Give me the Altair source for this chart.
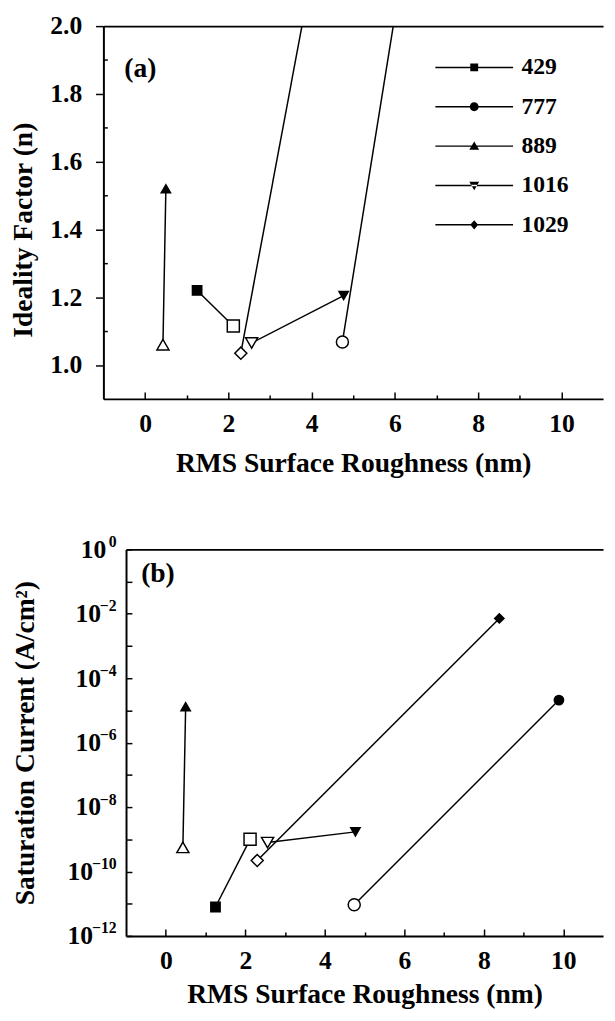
import altair as alt
import pandas as pd

# ---------------- data ----------------
series = ["429", "777", "889", "1016", "1029"]
roughness_open = [2.12, 4.74, 0.43, 2.56, 2.30]
roughness_filled = [1.25, 9.89, 0.50, 4.77, 8.39]
ideality_open = [1.115, 1.068, 1.06, 1.065, 1.035]
ideality_filled = [1.22, 5.00, 1.52, 1.205, 5.04]
current_open = [1.0e-9, 9.3e-12, 5.6e-10, 7.9e-10, 2.2e-10]
current_filled = [7.9e-12, 2.1e-5, 1.3e-5, 1.7e-9, 7.2e-3]

x_major = [0, 2, 4, 6, 8, 10]
x_minor = [1, 3, 5, 7, 9]
n_major = [1.0, 1.2, 1.4, 1.6, 1.8, 2.0]
n_minor = [1.1, 1.3, 1.5, 1.7, 1.9]
j_major = [1, 1e-2, 1e-4, 1e-6, 1e-8, 1e-10, 1e-12]
j_minor = [1e-1, 1e-3, 1e-5, 1e-7, 1e-9, 1e-11]

states = ["open", "filled"]
shapes = ["square", "circle", "triangle-up", "triangle-down", "diamond"]
legend_paths = [
    "M-7.9,-0.15H7.9V0.15H-7.9Z M-0.8,-0.8H0.8V0.8H-0.8Z",
    "M-7.9,-0.15H7.9V0.15H-7.9Z M0.9,0A0.9,0.9,0,1,1,-0.9,0A0.9,0.9,0,1,1,0.9,0Z",
    "M-7.9,-0.15H7.9V0.15H-7.9Z M0,-0.95L1,0.75H-1Z",
    "M-7.9,-0.15H7.9V0.15H-7.9Z M0,0.95L1,-0.75H-1Z",
    "M-7.9,-0.15H7.9V0.15H-7.9Z M0,-0.95L0.8,0L0,0.95L-0.8,0Z",
]

rows = []
for i, s in enumerate(series):
    rows.append({"series": s, "state": "open", "rough": roughness_open[i],
                 "n": ideality_open[i], "j": current_open[i]})
    rows.append({"series": s, "state": "filled", "rough": roughness_filled[i],
                 "n": ideality_filled[i], "j": current_filled[i]})
df = pd.DataFrame(rows)

FONT = "Liberation Serif"
W = 485
OFF = 23
H_TOP = 379
H_BOT = 393


def main_axis(**kw):
    base = dict(grid=False, domainColor="black", domainWidth=2, tickColor="black",
                labelColor="black", titleColor="black", labelFont=FONT, titleFont=FONT,
                labelFontWeight="bold", titleFontWeight="bold", labelFontSize=26,
                titleFontSize=28)
    base.update(kw)
    return alt.Axis(**base)


def tick_axis(values, size, offset, orient):
    return alt.Axis(values=values, ticks=True, tickSize=size, tickWidth=1.5,
                    tickColor="black", labels=False, domain=False, grid=False,
                    title=None, offset=offset, orient=orient, minExtent=0)


def border_axis():
    return alt.Axis(orient="top", labels=False, ticks=False, domain=True, domainWidth=2,
                    domainColor="black", grid=False, title=None, minExtent=0)


base = alt.Chart(df)

# ---------------- panel (a) ----------------
xs_top = alt.Scale(domain=[-1, 11], range=[-OFF, W], nice=False, zero=False)
ys_top = alt.Scale(domain=[0.9, 2.0], nice=False, zero=False)

lines_top = base.mark_line(color="black", strokeWidth=1.5, clip=True).encode(
    x=alt.X("rough:Q", scale=xs_top,
            axis=main_axis(values=x_major, format="d", ticks=False, labelPadding=12,
                           title="RMS Surface Roughness (nm)", titlePadding=14)),
    y=alt.Y("n:Q", scale=ys_top,
            axis=main_axis(values=n_major, format=".1f", ticks=True, tickSize=8,
                           tickWidth=1.5, offset=OFF, labelPadding=14,
                           title="Ideality Factor (n)", titleX=-67, titleY=207)),
    detail="series:N",
)

points_top = base.mark_point(filled=True, stroke="black", strokeWidth=1.5, opacity=1,
                             clip=True).encode(
    x=alt.X("rough:Q", scale=xs_top, axis=tick_axis(x_major, 7, -7, "bottom")),
    y=alt.Y("n:Q", scale=ys_top, axis=tick_axis(n_minor, 4, OFF - 4, "left")),
    shape=alt.Shape("series:N", scale=alt.Scale(domain=series, range=shapes), legend=None),
    fill=alt.Fill("state:N", scale=alt.Scale(domain=states, range=["white", "black"]), legend=None),
    size=alt.Size("state:O", scale=alt.Scale(domain=states, range=[150, 90]), legend=None),
)

legend_top = base.transform_filter("datum.n <= 2").mark_point(
    filled=True, color="black", opacity=0, clip=True).encode(
    x=alt.X("rough:Q", scale=xs_top, axis=tick_axis(x_minor, 4, -4, "bottom")),
    y=alt.Y("n:Q", scale=ys_top, axis=None),
    shape=alt.Shape("series:N", scale=alt.Scale(domain=series, range=legend_paths),
                    legend=alt.Legend(orient="none", legendX=342, legendY=30, title=None,
                                      symbolSize=100, symbolOpacity=1,
                                      symbolFillColor="black", symbolStrokeColor="black",
                                      symbolStrokeWidth=0.5, labelFont=FONT,
                                      labelFontSize=24, labelFontWeight="bold",
                                      labelColor="black", labelOffset=36, rowPadding=16,
                                      padding=0)),
)

border_top = base.transform_filter("datum.n <= 2").mark_point(opacity=0, clip=True).encode(
    x=alt.X("rough:Q", scale=xs_top, axis=border_axis()),
    y=alt.Y("n:Q", scale=ys_top, axis=None),
)

label_top = alt.Chart(pd.DataFrame({"label": ["(a)"]})).mark_text(
    align="left", baseline="middle", font=FONT, fontSize=28, fontWeight="bold",
    color="black").encode(
    x=alt.X(datum=-0.50, scale=xs_top, axis=None),
    y=alt.Y(datum=1.873, scale=ys_top, axis=None),
    text="label:N",
)

top = alt.layer(lines_top, points_top, legend_top, border_top, label_top).resolve_axis(
    x="independent", y="independent").resolve_scale(shape="independent").properties(
    width=W, height=H_TOP)

# ---------------- panel (b) ----------------
xs_bot = alt.Scale(domain=[-1, 11], nice=False, zero=False)
ys_bot = alt.Scale(type="log", domain=[1e-12, 1], nice=False)

# exponent part of the "10^k" tick labels, drawn as a raised, smaller label
exp_expr = "format(log(datum.value) / LN10, '.0f')"
base_pad = {
    "condition": [
        {"test": "datum.value > 0.1", "value": 20.5},
        {"test": "datum.value < 1e-9", "value": 34},
    ],
    "value": 26,
}

lines_bot = base.mark_line(color="black", strokeWidth=1.5, clip=True).encode(
    x=alt.X("rough:Q", scale=xs_bot,
            axis=main_axis(values=x_major, format="d", ticks=False, labelPadding=12,
                           title="RMS Surface Roughness (nm)", titlePadding=8)),
    y=alt.Y("j:Q", scale=ys_bot,
            axis=main_axis(values=j_major, labelExpr="'10'", ticks=False,
                           labelPadding=base_pad,
                           title="Saturation Current (A/cm\u00b2)", titleX=-88)),
    detail="series:N",
)

points_bot = base.mark_point(filled=True, stroke="black", strokeWidth=1.5, opacity=1,
                             clip=True).encode(
    x=alt.X("rough:Q", scale=xs_bot, axis=tick_axis(x_major, 7, -7, "bottom")),
    y=alt.Y("j:Q", scale=ys_bot, axis=tick_axis(j_major, 6, -6, "left")),
    shape=alt.Shape("series:N", scale=alt.Scale(domain=series, range=shapes), legend=None),
    fill=alt.Fill("state:N", scale=alt.Scale(domain=states, range=["white", "black"]), legend=None),
    size=alt.Size("state:O", scale=alt.Scale(domain=states, range=[150, 90]), legend=None),
)

minor_bot = base.mark_point(opacity=0, clip=True).encode(
    x=alt.X("rough:Q", scale=xs_bot, axis=tick_axis(x_minor, 4, -4, "bottom")),
    y=alt.Y("j:Q", scale=ys_bot, axis=tick_axis(j_minor, 6, -6, "left")),
)

border_bot = base.mark_point(opacity=0, clip=True).encode(
    x=alt.X("rough:Q", scale=xs_bot, axis=border_axis()),
    y=alt.Y("j:Q", scale=ys_bot,
            axis=alt.Axis(values=j_major, labelExpr=exp_expr, ticks=False, domain=False,
                          grid=False, title=None, labelPadding=10, labelOffset=-8,
                          labelFont=FONT, labelFontSize=16, labelFontWeight="bold",
                          labelColor="black", orient="left", minExtent=0)),
)

label_bot = alt.Chart(pd.DataFrame({"label": ["(b)"]})).mark_text(
    align="left", baseline="middle", font=FONT, fontSize=28, fontWeight="bold",
    color="black").encode(
    x=alt.X(datum=-0.62, scale=xs_bot, axis=None),
    y=alt.Y(datum=0.166, scale=ys_bot, axis=None),
    text="label:N",
)

bottom = alt.layer(lines_bot, points_bot, minor_bot, border_bot, label_bot).resolve_axis(
    x="independent", y="independent").properties(width=W, height=H_BOT)

chart = alt.vconcat(top, bottom, spacing=57).properties(
    padding={"left": 2, "top": -3, "right": -19, "bottom": 0}
).configure(font=FONT, background="white").configure_view(stroke=None)

chart.save("out.html", embed_options={"renderer": "svg", "actions": False})
